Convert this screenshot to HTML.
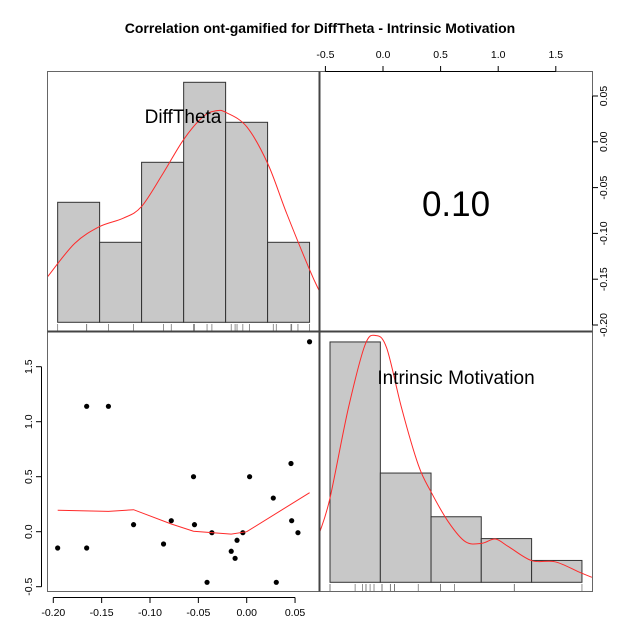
<!DOCTYPE html>
<html><head><meta charset="utf-8"><style>
html,body{margin:0;padding:0;background:#fff}
svg{display:block;font-family:"Liberation Sans",Arial,sans-serif}
</style></head><body>
<svg id="c" width="640" height="640" viewBox="0 0 640 640">
<text x="320" y="33" text-anchor="middle" font-size="14" font-weight="bold">Correlation ont-gamified for DiffTheta - Intrinsic Motivation</text>
</svg>
<script>
const diffTheta=[-0.1955,-0.1655,-0.1655,-0.143,-0.117,-0.086,-0.078,-0.055,-0.054,-0.041,-0.036,-0.016,-0.012,-0.010,-0.004,0.003,0.0275,0.0306,0.0458,0.0465,0.053,0.065];
const intrinsic=[-0.148,-0.148,1.14,1.14,0.064,-0.112,0.10,0.50,0.064,-0.46,-0.009,-0.178,-0.242,-0.078,-0.009,0.50,0.306,-0.46,0.62,0.10,-0.009,1.727];
const loessX=[-0.1955,-0.143,-0.117,-0.078,-0.055,-0.016,0.0,0.065];
const loessY=[0.195,0.185,0.20,0.07,0.005,-0.022,0.0,0.355];
const dtEdges=[-0.1955,-0.1521,-0.1087,-0.0652,-0.0218,0.0216,0.065];
const dtCounts=[3,2,4,6,5,2];
const imEdges=[-0.46,-0.023,0.417,0.853,1.29,1.727];
const imCounts=[11,5,3,2,1];
const dtDensX=[-0.2059,-0.178,-0.1524,-0.1279,-0.1089,-0.0866,-0.0655,-0.0452,-0.0314,-0.021,0.0,0.0217,0.0414,0.0651,0.0750];
const dtDensY=[1.14,1.97,2.39,2.60,2.89,3.72,4.56,5.14,5.29,5.24,4.89,3.97,2.72,1.31,0.79];
const imDensX=[-0.547,-0.46,-0.301,-0.156,-0.061,0.032,0.162,0.307,0.417,0.567,0.715,0.856,0.975,1.090,1.292,1.494,1.697,1.813];
const imDensY=[2.33,3.86,7.96,10.86,11.29,10.72,7.96,5.36,4.14,2.77,1.86,1.78,1.98,1.63,0.99,0.94,0.48,0.23];
const xTicksDT=[-0.20,-0.15,-0.10,-0.05,0.00,0.05];
const yTicksIM=[-0.5,0.0,0.5,1.0,1.5];
const topTicksIM=[-0.5,0.0,0.5,1.0,1.5];
const rightTicksDT=[0.05,0.00,-0.05,-0.10,-0.15,-0.20];
const corrText="0.10";

const NS="http://www.w3.org/2000/svg";
const svg=document.getElementById('c');
function mk(t,a,p){const e=document.createElementNS(NS,t);for(const k in a)e.setAttribute(k,a[k]);(p||svg).appendChild(e);return e;}
const xDT=v=>246.7+v*967;
const xIM=v=>383+v*115.2;
const yIM=v=>531.7-v*110;
const yDTr=v=>141.8-v*916;
const yCntDT=c=>322.3-c*40;
const yCntIM=c=>582.3-c*21.85;
const fmt2=v=>v.toFixed(2);
function smooth(pts){
  let d='M'+pts[0][0].toFixed(1)+','+pts[0][1].toFixed(1);
  for(let i=0;i<pts.length-1;i++){
    const p0=pts[i-1]||pts[i],p1=pts[i],p2=pts[i+1],p3=pts[i+2]||p2;
    const c1=[p1[0]+(p2[0]-p0[0])/6,p1[1]+(p2[1]-p0[1])/6];
    const c2=[p2[0]-(p3[0]-p1[0])/6,p2[1]-(p3[1]-p1[1])/6];
    d+='C'+c1[0].toFixed(1)+','+c1[1].toFixed(1)+' '+c2[0].toFixed(1)+','+c2[1].toFixed(1)+' '+p2[0].toFixed(1)+','+p2[1].toFixed(1);
  }
  return d;
}

const L=47.5,M=319.5,R=592.5,T=71.5,MY=331.5,B=591.5;
const g1=mk('g',{});
dtCounts.forEach((c,i)=>{const r=mk('rect',{x:xDT(dtEdges[i]),y:yCntDT(c),width:xDT(dtEdges[i+1])-xDT(dtEdges[i]),height:yCntDT(0)-yCntDT(c),fill:'#c8c8c8',stroke:'#333','stroke-width':1},g1);
});
const g2=mk('g',{});
imCounts.forEach((c,i)=>{const r=mk('rect',{x:xIM(imEdges[i]),y:yCntIM(c),width:xIM(imEdges[i+1])-xIM(imEdges[i]),height:yCntIM(0)-yCntIM(c),fill:'#c8c8c8',stroke:'#333','stroke-width':1},g2);
});
const defs=mk('defs',{});
const cp1=mk('clipPath',{id:'cp1'},defs);mk('rect',{x:L,y:T,width:M-L,height:MY-T},cp1);
const cp2=mk('clipPath',{id:'cp2'},defs);mk('rect',{x:M,y:MY,width:R-M,height:B-MY},cp2);
const p1=mk('path',{d:smooth(dtDensX.map((v,i)=>[xDT(v),yCntDT(dtDensY[i])])),fill:'none',stroke:'#ff2a2a','stroke-width':1,'clip-path':'url(#cp1)'});

const p2=mk('path',{d:smooth(imDensX.map((v,i)=>[xIM(v),yCntIM(imDensY[i])])),fill:'none',stroke:'#ff2a2a','stroke-width':1,'clip-path':'url(#cp2)'});

diffTheta.forEach(v=>{const l=mk('line',{x1:xDT(v),x2:xDT(v),y1:324,y2:331,stroke:'#777','stroke-width':0.8});
});
intrinsic.forEach(v=>{const l=mk('line',{x1:xIM(v),x2:xIM(v),y1:584,y2:591,stroke:'#777','stroke-width':0.8});
});
diffTheta.forEach((v,i)=>{const c=mk('circle',{cx:xDT(v),cy:yIM(intrinsic[i]),r:2.6,fill:'#000'});
});
const d=loessX.map((v,i)=>(i?'L':'M')+xDT(v).toFixed(1)+','+yIM(loessY[i]).toFixed(1)).join('');
const lo=mk('path',{d:d,fill:'none',stroke:'#ff2a2a','stroke-width':1});

let t=mk('text',{x:183,y:123,'text-anchor':'middle','font-size':19});t.textContent='DiffTheta';

t=mk('text',{x:456,y:384,'text-anchor':'middle','font-size':19});t.textContent='Intrinsic Motivation';

t=mk('text',{x:456,y:216,'text-anchor':'middle','font-size':35});t.textContent=corrText;

[[L,T,M,MY],[M,T,R,MY],[L,MY,M,B],[M,MY,R,B]].forEach(b=>{const r=mk('rect',{x:b[0],y:b[1],width:b[2]-b[0],height:b[3]-b[1],fill:'none',stroke:'#666','stroke-width':1});
});
mk('line',{x1:M,x2:M,y1:T,y2:B,stroke:'#444','stroke-width':2});
mk('line',{x1:L,x2:R,y1:MY,y2:MY,stroke:'#444','stroke-width':2});
const ax=mk('g',{stroke:'#000','stroke-width':1});
mk('line',{x1:xDT(xTicksDT[0]),x2:xDT(xTicksDT[xTicksDT.length-1]),y1:597.5,y2:597.5},ax);
xTicksDT.forEach(v=>{mk('line',{x1:xDT(v),x2:xDT(v),y1:597.5,y2:603},ax);
const tt=mk('text',{x:xDT(v),y:616,'text-anchor':'middle','font-size':10.5});tt.textContent=fmt2(v);
});
mk('line',{x1:41.5,x2:41.5,y1:yIM(yTicksIM[yTicksIM.length-1]),y2:yIM(yTicksIM[0])},ax);
yTicksIM.forEach(v=>{mk('line',{x1:36,x2:41.5,y1:yIM(v),y2:yIM(v)},ax);
const tt=mk('text',{x:0,y:0,'text-anchor':'middle','font-size':10.5,transform:`translate(32,${yIM(v)}) rotate(-90)`});tt.textContent=v.toFixed(1);
});
mk('line',{x1:xIM(topTicksIM[0]),x2:xIM(topTicksIM[topTicksIM.length-1]),y1:71.5,y2:71.5},ax);
topTicksIM.forEach(v=>{mk('line',{x1:xIM(v),x2:xIM(v),y1:66,y2:71.5},ax);
const tt=mk('text',{x:xIM(v),y:58,'text-anchor':'middle','font-size':10.5});tt.textContent=v.toFixed(1);
});
mk('line',{x1:R,x2:R,y1:yDTr(rightTicksDT[0]),y2:yDTr(rightTicksDT[rightTicksDT.length-1])},ax);
rightTicksDT.forEach(v=>{mk('line',{x1:R,x2:R+5.5,y1:yDTr(v),y2:yDTr(v)},ax);
const tt=mk('text',{x:0,y:0,'text-anchor':'middle','font-size':10.5,transform:`translate(607,${yDTr(v)}) rotate(-90)`});tt.textContent=fmt2(v);
});
</script>
</body></html>
